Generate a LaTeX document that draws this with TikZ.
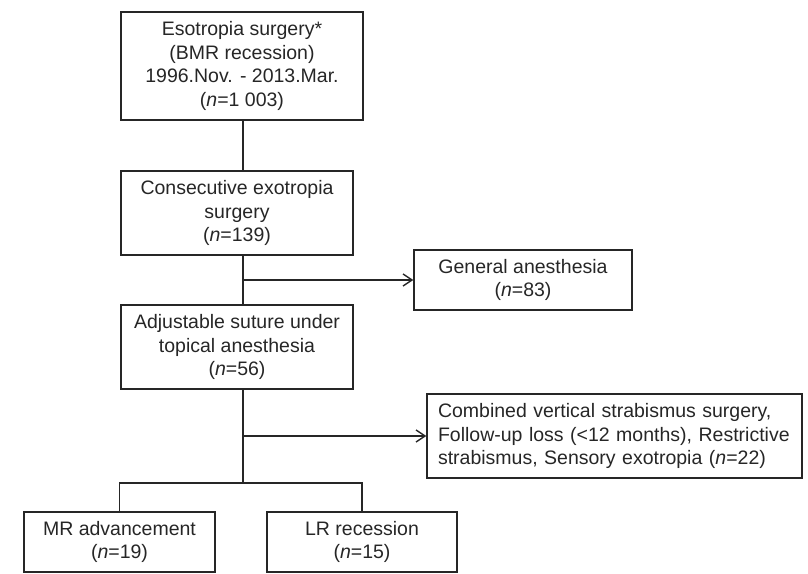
\documentclass[tikz,border=0pt]{standalone}
\usepackage{fontspec}
\setmainfont{Liberation Sans}
\usetikzlibrary{arrows.meta}
\definecolor{ln}{HTML}{262626}
\begin{document}
\begin{tikzpicture}[x=1pt,y=-1pt,
  box/.style={draw=ln,line width=1.4pt,inner sep=0pt,align=center,
    font=\fontsize{19.5}{23.5}\selectfont,text=ln},
  conn/.style={draw=ln,line width=1.4pt},
  arr/.style={conn,-{Straight Barb[length=9pt,width=12pt,line width=1.4pt]}}]
\useasboundingbox (0,0) rectangle (808,573);
\node[box,minimum width=242pt,minimum height=108pt] (b1) at (242,66)
  {Esotropia surgery*\\(BMR recession)\\1996.Nov. - 2013.Mar.\\(\textit{n}=1 003)};
\node[box,minimum width=232pt,minimum height=84pt] (b2) at (237,213)
  {Consecutive exotropia\\surgery\\(\textit{n}=139)};
\node[box,minimum width=232pt,minimum height=84pt] (b3) at (237,347)
  {Adjustable suture under\\topical anesthesia\\(\textit{n}=56)};
\node[box,minimum width=218pt,minimum height=60pt] (ga) at (523,280)
  {General anesthesia\\(\textit{n}=83)};
\node[box,minimum width=375pt,minimum height=84pt,align=left,text width=353pt] (cv) at (614.5,436)
  {Combined vertical strabismus surgery,\\Follow-up loss (<12 months), Restrictive\\strabismus, Sensory exotropia (\textit{n}=22)};
\node[box,minimum width=191pt,minimum height=60pt] (mr) at (119.5,542)
  {MR advancement\\(\textit{n}=19)};
\node[box,minimum width=190pt,minimum height=60pt] (lr) at (362,542)
  {LR recession\\(\textit{n}=15)};
\coordinate (j1) at (243,280);
\coordinate (j2) at (243,436);
\coordinate (j3) at (243,483);
\draw[conn] (b1.south -| j1) -- (b2.north -| j1);
\draw[conn] (b2.south -| j1) -- (b3.north -| j1);
\draw[arr] (j1) -- (ga.west);
\draw[conn] (b3.south -| j1) -- (j3);
\draw[arr] (j2) -- (cv.west);
\draw[conn] (mr.north) -- (mr.north |- j3) -- (lr.north |- j3) -- (lr.north);
\end{tikzpicture}
\end{document}
